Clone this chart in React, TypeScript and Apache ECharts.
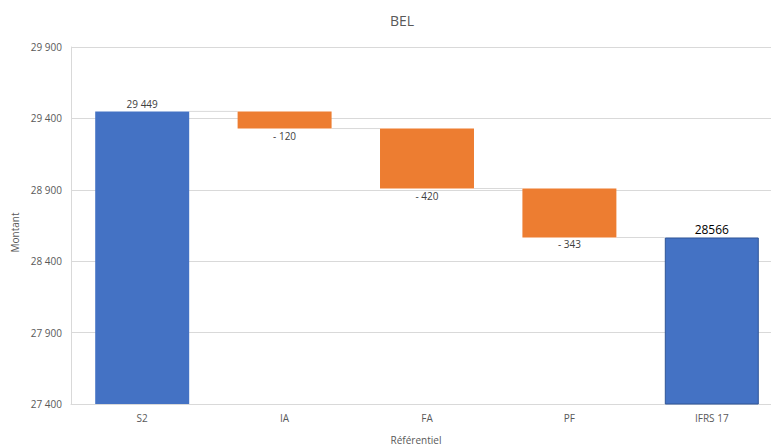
import React, { useEffect, useRef } from "react";
import * as echarts from "echarts";

// Waterfall: starting amount, movements, closing amount
const categories = ["S2", "IA", "FA", "PF", "IFRS 17"];
const amounts = [29449, -120, -420, -343, 28566];
const totalFlags = [true, false, false, false, true];
const yTicks = { min: 27400, max: 29900, step: 500 };

const FONT = "'Open Sans', 'Noto Sans', sans-serif";
const BLUE = "#4472C4";
const ORANGE = "#ED7D31";

const withSpaces = (v: number) =>
  String(Math.round(v)).replace(/\B(?=(\d{3})+(?!\d))/g, " ");

export default function App() {
  const ref = useRef<HTMLDivElement>(null);

  useEffect(() => {
    if (!ref.current) return;
    const chart = echarts.init(ref.current, undefined, { renderer: "svg" });

    // running levels and stacked base / visible parts
    const base: number[] = [];
    const visible: any[] = [];
    const levels: number[] = [];
    let running = 0;
    amounts.forEach((v, i) => {
      if (totalFlags[i]) {
        running = v;
        base.push(0);
        const isLast = i === amounts.length - 1;
        visible.push({
          value: v,
          itemStyle: {
            color: BLUE,
            borderColor: isLast ? "#2F5597" : BLUE,
            borderWidth: isLast ? 1 : 0,
          },
          label: {
            show: true,
            position: "top",
            distance: 2,
            formatter: isLast ? String(v) : withSpaces(v),
            fontSize: isLast ? 12 : 10,
            color: isLast ? "#000000" : "#404040",
            fontFamily: FONT,
          },
        });
      } else {
        const next = running + v;
        base.push(Math.min(running, next));
        visible.push({
          value: Math.abs(v),
          itemStyle: { color: ORANGE },
          label: {
            show: true,
            position: "bottom",
            distance: 2,
            formatter: (v < 0 ? "- " : "") + withSpaces(Math.abs(v)),
            fontSize: 10,
            color: "#404040",
            fontFamily: FONT,
          },
        });
        running = next;
      }
      levels.push(running);
    });

    const connectors = levels.slice(0, -1).map((lvl, i) => [i, lvl]);

    chart.setOption({
      animation: false,
      backgroundColor: "#ffffff",
      title: {
        text: "BEL",
        left: 397,
        top: 8,
        textAlign: "center",
        textStyle: {
          fontFamily: FONT,
          fontSize: 14,
          fontWeight: "normal",
          color: "#595959",
        },
      },
      grid: {
        left: 71,
        top: 47,
        width: 712,
        height: 357,
        outerBoundsMode: "none",
        containLabel: false,
      },
      xAxis: {
        type: "category",
        data: categories,
        name: "Référentiel",
        nameLocation: "middle",
        nameGap: 31,
        nameTextStyle: {
          fontFamily: FONT,
          fontSize: 10,
          color: "#595959",
          padding: [0, 22, 0, 0],
        },
        axisLine: { lineStyle: { color: "#d9d9d9" } },
        axisTick: { show: false },
        axisLabel: {
          fontFamily: FONT,
          fontSize: 10,
          color: "#595959",
          margin: 9,
        },
      },
      yAxis: {
        type: "value",
        min: yTicks.min,
        max: yTicks.max,
        interval: yTicks.step,
        name: "Montant",
        nameLocation: "middle",
        nameGap: 50,
        nameRotate: 90,
        nameTextStyle: {
          fontFamily: FONT,
          fontSize: 10,
          color: "#595959",
          padding: [0, 14, 0, 0],
        },
        axisLine: { show: true, lineStyle: { color: "#d9d9d9" } },
        axisTick: { show: false },
        splitLine: { lineStyle: { color: "#d9d9d9" } },
        axisLabel: {
          fontFamily: FONT,
          fontSize: 10,
          color: "#595959",
          margin: 9,
          formatter: (v: number) => withSpaces(v),
        },
      },
      series: [
        {
          type: "bar",
          stack: "wf",
          barWidth: "66%",
          data: base,
          itemStyle: { color: "transparent" },
          silent: true,
        },
        {
          type: "bar",
          stack: "wf",
          barWidth: "66%",
          data: visible,
        },
        {
          type: "custom",
          data: connectors,
          z: 1,
          renderItem: (params: any, api: any) => {
            const i = api.value(0);
            const lvl = api.value(1);
            const p0 = api.coord([i, lvl]);
            const p1 = api.coord([i + 1, lvl]);
            const bw = api.size([1, 0])[0] * 0.66;
            return {
              type: "line",
              shape: {
                x1: p0[0] + bw / 2,
                y1: p0[1],
                x2: p1[0] - bw / 2,
                y2: p1[1],
              },
              style: { stroke: "#d9d9d9", lineWidth: 1 },
            };
          },
        },
      ],
    });

    return () => chart.dispose();
  }, []);

  return (
    <div
      ref={ref}
      style={{ position: "absolute", left: 0, top: 0, width: 771, height: 446 }}
    />
  );
}
